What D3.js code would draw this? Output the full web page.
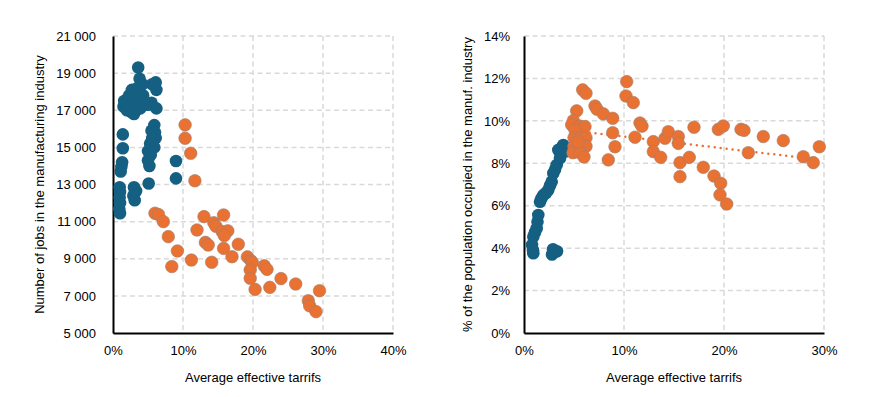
<!DOCTYPE html>
<html>
<head>
<meta charset="utf-8">
<script src="https://cdn.jsdelivr.net/npm/d3@7"></script>
<style>
  body { margin: 0; background: #fff; }
  svg { font-family: "Liberation Sans", Arial, sans-serif; }
</style>
</head>
<body>
<div id="chart"></div>
<script>
// [tariff %, jobs]
const jobsLow = [
  [1.0, 11450], [0.9, 11700], [1.0, 12000], [0.95, 12300], [1.0, 12600], [0.95, 12850],
  [1.1, 13700], [1.2, 13950], [1.3, 14200], [1.4, 14950], [1.4, 15700],
  [1.5, 17200], [1.6, 17500], [1.8, 17300], [2.0, 17600], [2.0, 17000], [2.3, 17800],
  [2.5, 17200], [2.6, 16900], [2.8, 17500], [2.9, 18000], [3.0, 16800], [3.2, 17300],
  [3.4, 17700], [3.5, 18200], [3.3, 17000], [3.7, 17400], [4.0, 17600], [3.8, 18700],
  [3.6, 19300], [4.2, 18400], [4.5, 17300], [5.0, 17300], [5.6, 18400], [6.1, 18500],
  [6.2, 18100], [6.2, 17100], [2.2, 17300], [2.7, 18100], [3.0, 17600], [3.9, 17100],
  [4.3, 17800], [5.5, 17400],
  [5.9, 16200], [5.5, 15900], [6.0, 15800], [5.6, 15500], [6.1, 15500], [5.3, 15200],
  [5.9, 15000], [5.0, 14800], [5.4, 14600], [5.0, 14300], [5.2, 14000], [5.1, 13050],
  [3.0, 12850], [3.3, 12650], [2.9, 12400], [3.1, 12150],
  [9.0, 14270], [9.0, 13330]
]
const jobsHigh = [
  [10.3, 16210], [10.3, 15490], [11.1, 14680], [11.7, 13200],
  [6.0, 11450], [6.5, 11380], [7.2, 11000], [7.9, 10190], [9.2, 9420], [8.4, 8580],
  [11.2, 8930], [13.0, 11270], [15.8, 11360], [14.4, 10940], [14.7, 10750], [12.0, 10550],
  [15.6, 10460], [16.4, 10500], [15.9, 10250], [13.2, 9880], [13.6, 9740], [15.8, 9560],
  [17.0, 9110], [17.9, 9780], [14.1, 8810], [19.2, 9100], [19.7, 8900], [19.9, 8800],
  [19.6, 8390], [19.6, 7950], [20.3, 7350], [21.6, 8620], [22.0, 8430], [22.4, 7460],
  [24.0, 7930], [26.1, 7640], [29.5, 7280], [27.9, 6740], [28.1, 6460], [29.0, 6150]
]

// [tariff %, share of population %]
const shareLow = [
  [0.93, 3.76], [0.9, 3.9], [0.8, 4.15], [0.93, 4.54], [1.1, 4.75], [1.27, 4.94],
  [1.35, 5.25], [1.43, 5.56], [1.6, 6.19], [1.75, 6.35], [1.93, 6.5], [2.2, 6.6],
  [2.43, 6.74], [2.6, 6.95], [2.77, 7.13], [2.93, 7.53], [3.1, 7.7], [3.27, 7.92],
  [3.6, 8.24], [3.43, 8.63], [3.93, 8.86], [4.1, 8.55], [3.7, 8.7],
  [3.03, 3.83], [2.8, 3.7], [3.3, 3.85], [2.9, 3.95]
]
const shareHigh = [
  [5.87, 11.46], [6.2, 11.3], [5.27, 10.47], [4.93, 10.01], [4.77, 9.81], [5.6, 9.75],
  [6.1, 9.73], [5.1, 9.57], [7.1, 10.7], [7.3, 10.55], [7.93, 10.33], [8.87, 10.12],
  [8.87, 9.44], [9.1, 8.78], [8.43, 8.16], [10.27, 11.85], [10.2, 11.17], [10.93, 10.86],
  [11.6, 9.9], [11.8, 9.75], [11.1, 9.23], [12.93, 9.02], [12.93, 8.55], [13.67, 8.28],
  [14.1, 9.18], [14.43, 9.49], [15.43, 9.26], [15.43, 8.94], [15.6, 8.03], [15.6, 7.37],
  [16.53, 8.28], [17.0, 9.7], [17.93, 7.81], [19.0, 7.4], [19.67, 7.06], [19.6, 6.51],
  [20.27, 6.08], [19.43, 9.6], [19.93, 9.76], [21.7, 9.6], [22.0, 9.55], [23.93, 9.26],
  [25.93, 9.07], [22.43, 8.5], [27.93, 8.31], [28.93, 8.03], [29.53, 8.78],
  [5.0, 9.2], [5.6, 9.2], [6.2, 9.2], [5.0, 8.8], [5.6, 8.8], [6.2, 8.8],
  [4.9, 8.5], [5.6, 8.5], [6.0, 8.3], [5.4, 9.0]
]
const shareTrend = [[4.77, 9.55], [29.53, 8.17]]

const jobTicks = [5000, 7000, 9000, 11000, 13000, 15000, 17000, 19000, 21000]
const tariffTicksLeft = [0, 10, 20, 30, 40]
const tariffTicksRight = [0, 10, 20, 30]
const shareTicks = [0, 2, 4, 6, 8, 10, 12, 14]

const blue = "#156082"
const orange = "#e97132"
const grid = "#d9d9d9"
const fontSize = 13
const spaced = d3.formatLocale({ decimal: ",", thousands: " ", grouping: [3] }).format(",.0f")

const svg = d3.select('#chart')
  .append('svg')
  .attr('width', 876)
  .attr('height', 397)

function panel(opts) {
  const x = d3.scaleLinear(opts.xDomain, opts.xRange)
  const y = d3.scaleLinear(opts.yDomain, [333, 36])
  const g = svg.append("g")

  // grid
  g.append("g")
    .attr("stroke", grid)
    .attr("stroke-width", 1.5)
    .attr("stroke-dasharray", "5,3.5")
    .call(s => s.selectAll(".h")
      .data(opts.yTicks.slice(1))
      .join("line")
      .attr("x1", opts.xRange[0]).attr("x2", opts.xRange[1])
      .attr("y1", d => y(d)).attr("y2", d => y(d)))
    .call(s => s.selectAll(".v")
      .data(opts.xTicks.slice(1))
      .join("line")
      .attr("class", "v")
      .attr("x1", d => x(d)).attr("x2", d => x(d))
      .attr("y1", 36).attr("y2", 333))

  // axes
  g.append("g")
    .attr("transform", "translate(0,333)")
    .call(d3.axisBottom(x).tickValues(opts.xTicks).tickSize(0).tickPadding(13).tickFormat(d => d + "%"))
    .call(a => a.select(".domain").attr("stroke", "#000").attr("stroke-width", 2))
    .call(a => a.selectAll("text").attr("font-size", fontSize).attr("fill", "#000").attr("font-family", null))

  g.append("g")
    .attr("transform", `translate(${opts.xRange[0]},0)`)
    .call(d3.axisLeft(y).tickValues(opts.yTicks).tickSize(0).tickPadding(opts.yPad).tickFormat(opts.yFormat))
    .call(a => a.select(".domain").attr("stroke", "#000").attr("stroke-width", 2))
    .call(a => a.selectAll("text").attr("font-size", fontSize).attr("fill", "#000").attr("font-family", null))

  g.append("text")
    .attr("x", (opts.xRange[0] + opts.xRange[1]) / 2)
    .attr("y", 382)
    .attr("text-anchor", "middle")
    .attr("font-size", fontSize)
    .text("Average effective tarrifs")

  g.append("text")
    .attr("transform", `translate(${opts.yLabelX},${(36 + 333) / 2}) rotate(-90)`)
    .attr("text-anchor", "middle")
    .attr("font-size", fontSize)
    .text(opts.yLabel)

  if (opts.trend) {
    g.append("path")
      .datum(opts.trend)
      .attr("fill", "none")
      .attr("stroke", orange)
      .attr("stroke-width", 2.5)
      .attr("stroke-linecap", "round")
      .attr("stroke-dasharray", "0,6")
      .attr("d", d3.line(d => x(d[0]), d => y(d[1])))
  }

  const dots = [[opts.low, blue, "none"], [opts.high, orange, "#a08070"]]
  dots.forEach(([data, color, stroke]) => {
    g.append("g")
      .attr("fill", color)
      .attr("stroke", stroke)
      .attr("stroke-width", 0.6)
      .selectAll("circle")
      .data(data)
      .join("circle")
      .attr("cx", d => x(d[0]))
      .attr("cy", d => y(d[1]))
      .attr("r", 6.3)
  })
}

panel({
  xDomain: [0, 40], xRange: [113, 393], xTicks: tariffTicksLeft,
  yDomain: [5000, 21000], yTicks: jobTicks, yFormat: spaced, yPad: 17,
  yLabel: "Number of jobs in the manufacturing industry", yLabelX: 44,
  low: jobsLow, high: jobsHigh
})

panel({
  xDomain: [0, 30], xRange: [524, 824], xTicks: tariffTicksRight,
  yDomain: [0, 14], yTicks: shareTicks, yFormat: d => d + "%", yPad: 14,
  yLabel: "% of the population occupied in the manuf. industry", yLabelX: 472,
  low: shareLow, high: shareHigh, trend: shareTrend
})
</script>
</body>
</html>
